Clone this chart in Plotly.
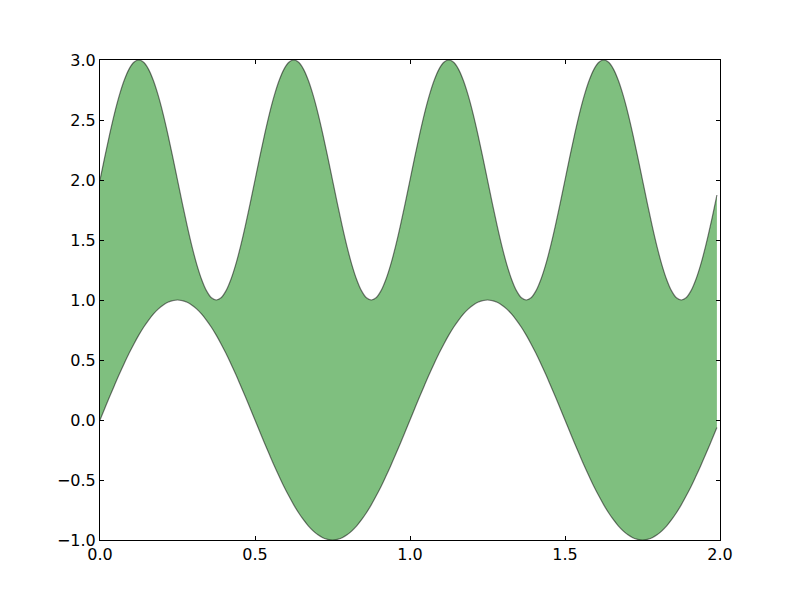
import plotly.graph_objects as go

# x positions (step 1/64, final sample at 1.99)
x = [i / 64 for i in range(128)] + [1.99]

# lower curve values (period 1.0, range -1..1), rising quarter period
lq = [0.000, 0.098, 0.195, 0.290, 0.383, 0.471, 0.556, 0.634, 0.707,
      0.773, 0.831, 0.882, 0.924, 0.957, 0.981, 0.995, 1.000]
lower_half = lq + lq[1:-1][::-1]                      # 0 .. 1 .. (back toward 0), 32 pts
lower_period = lower_half + [-v for v in lower_half]  # 64 pts
y_lower = lower_period * 2 + [-0.063]

# upper curve values (period 0.5, range 1..3), rising quarter period
uq = [0.000, 0.195, 0.383, 0.556, 0.707, 0.831, 0.924, 0.981, 1.000]
upper_half = uq + uq[1:-1][::-1]                      # 16 pts
upper_period = [2 + v for v in upper_half] + [2 - v for v in upper_half]  # 32 pts
y_upper = upper_period * 4 + [1.875]

x_ticks = [0.0, 0.5, 1.0, 1.5, 2.0]
y_ticks = [-1.0, -0.5, 0.0, 0.5, 1.0, 1.5, 2.0, 2.5, 3.0]

fill_color = "rgba(0,128,0,0.5)"
edge = dict(color="rgba(0,0,0,0.5)", width=1.2, shape="spline", smoothing=1.0)

fig = go.Figure()
fig.add_trace(go.Scatter(x=x, y=y_lower, mode="lines", line=edge, showlegend=False, hoverinfo="skip"))
fig.add_trace(go.Scatter(x=x, y=y_upper, mode="lines", line=edge, fill="tonexty",
                         fillcolor=fill_color, showlegend=False, hoverinfo="skip"))

axis_common = dict(showgrid=False, zeroline=False, showline=True, linecolor="black", linewidth=1,
                   mirror="ticks", ticks="inside", ticklen=4, tickwidth=1, tickcolor="black",
                   tickfont=dict(family="DejaVu Sans", size=16, color="black"))
fig.update_xaxes(range=[0, 2], tickvals=x_ticks, ticktext=[f"{v:.1f}" for v in x_ticks], **axis_common)
fig.update_yaxes(range=[-1, 3], tickvals=y_ticks,
                 ticktext=[f"{v:.1f}".replace("-", "\u2212") for v in y_ticks], **axis_common)

fig.update_layout(width=800, height=600, margin=dict(l=92, r=88, t=52, b=68),
                  paper_bgcolor="white", plot_bgcolor="white")
fig.write_html("out.html")
